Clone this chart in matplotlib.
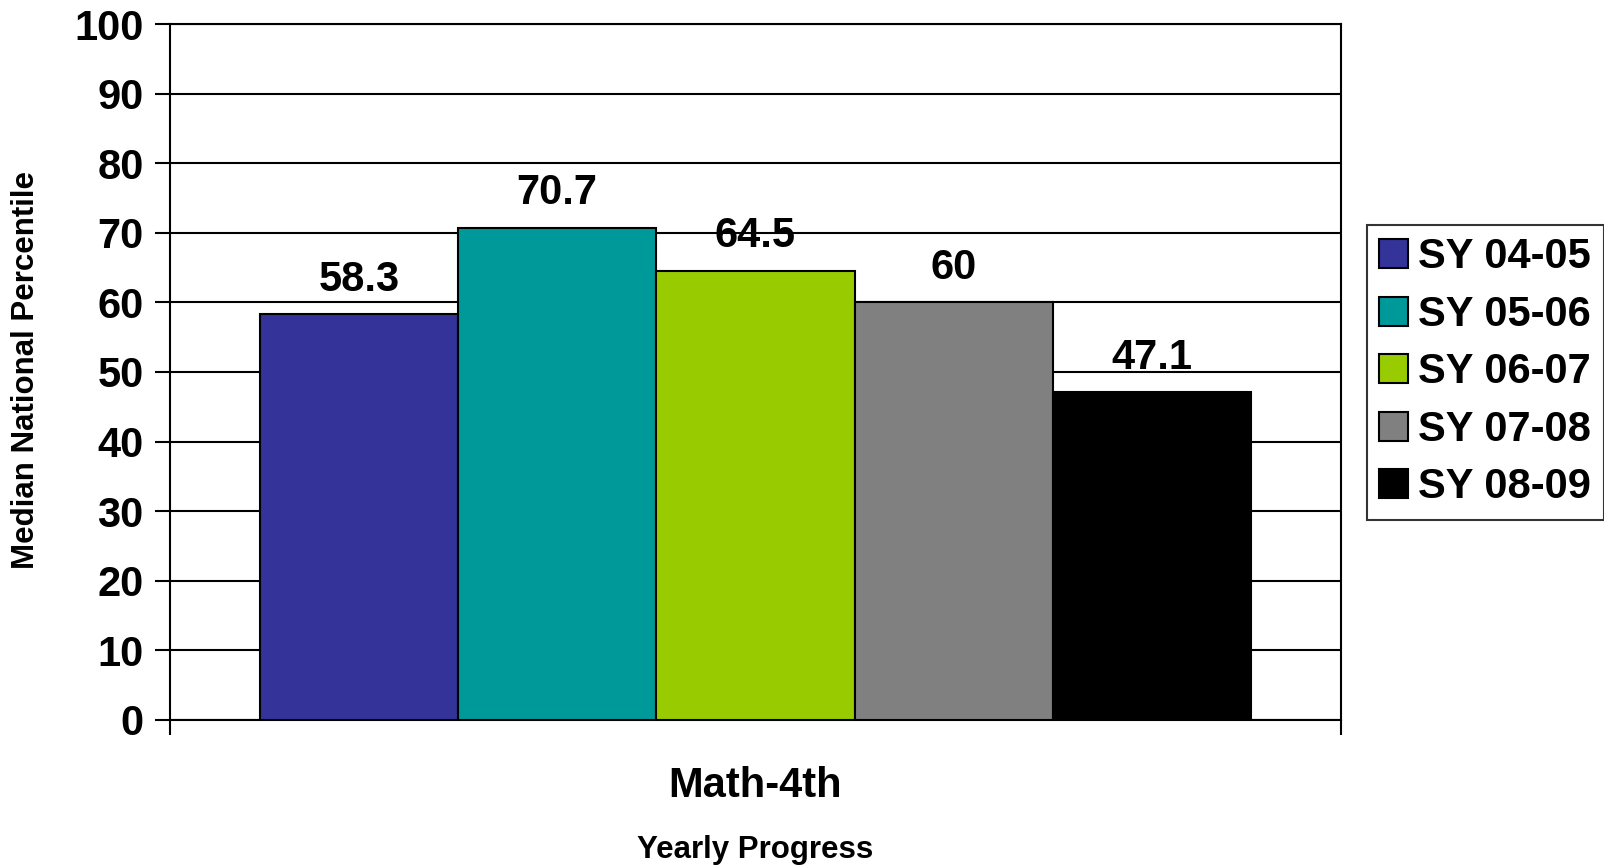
import matplotlib.pyplot as plt

plt.rcParams['font.family'] = ['Liberation Sans', 'DejaVu Sans']
plt.rcParams['font.weight'] = 'bold'

# data
years = ["SY 04-05", "SY 05-06", "SY 06-07", "SY 07-08", "SY 08-09"]
values = [58.3, 70.7, 64.5, 60, 47.1]
colors = ["#333399", "#009999", "#99CC00", "#808080", "#000000"]
category = "Math-4th"

fig = plt.figure(figsize=(16.04, 8.67), dpi=100)
ax = fig.add_axes([0.106, 0.1696, 0.730, 0.8027])

w = 0.847 / len(values)
start = -w * len(values) / 2 + w / 2
for i, (lab, v, c) in enumerate(zip(years, values, colors)):
    x = start + i * w
    ax.bar(x, v, width=w, color=c, edgecolor="black", linewidth=1.5, label=lab, zorder=3)
    ax.annotate(f"{v:g}", (x, v), xytext=(0, 17), textcoords="offset points",
                ha="center", va="baseline", fontsize=30, fontweight="bold")

ax.set_xlim(-0.5, 0.5)
ax.set_ylim(0, 100)
ax.set_yticks(range(0, 101, 10))
ax.set_xticks([-0.5, 0.5])
ax.set_xticklabels(["", ""])
ax.yaxis.grid(True, color="black", linewidth=1.5, zorder=0)
ax.tick_params(axis="y", length=11, width=1.5, labelsize=30, pad=8)
ax.tick_params(axis="x", length=11, width=1.5)
for s in ax.spines.values():
    s.set_linewidth(1.5)
    s.set_color("black")

for t in ax.get_yticklabels():
    t.set_fontweight("bold")

fig.text(0.4709, 1 - 786 / 867, category, ha="center", va="center", fontsize=30, fontweight="bold")
fig.text(0.4709, 1 - 850 / 867, "Yearly Progress", ha="center", va="center", fontsize=22.5, fontweight="bold")
fig.text(26 / 1604, 1 - 370 / 867, "Median National Percentile", rotation=90,
         ha="center", va="center", fontsize=22.5, fontweight="bold")

leg = fig.legend(loc="upper left", bbox_to_anchor=(0.852, 0.7405), fontsize=30,
                 frameon=True, fancybox=False, edgecolor="black", borderaxespad=0,
                 handlelength=0.69, handleheight=0.69, handletextpad=0.25,
                 labelspacing=0.42, borderpad=0.3)
leg.get_frame().set_linewidth(1.5)
for t in leg.get_texts():
    t.set_fontweight("bold")

fig.savefig("out.png", dpi=100)
